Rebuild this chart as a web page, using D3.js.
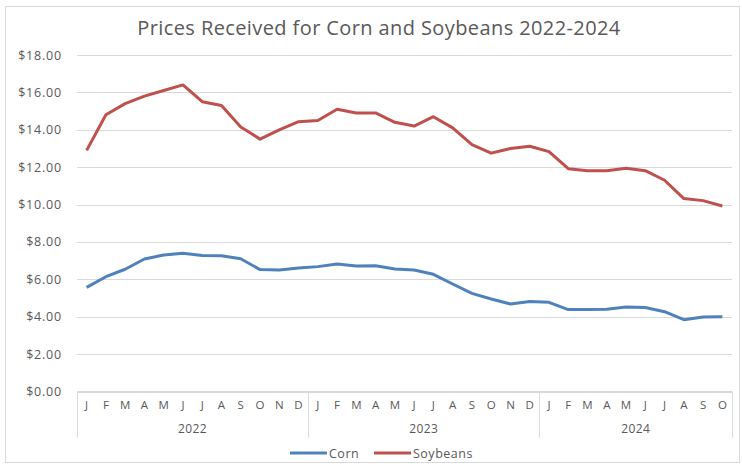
<!doctype html>
<html>
<head>
<meta charset="utf-8">
<style>
  body { margin: 0; background: #fff; font-family: "Open Sans", Calibri, sans-serif; }
  .grid line { stroke: #d9d9d9; stroke-width: 1; shape-rendering: crispEdges; }
  .grid path { display: none; }
  .tick text { fill: #595959; }
</style>
<script src="https://d3js.org/d3.v7.min.js"></script>
</head>
<body>
<script>
// data
var months = ['J','F','M','A','M','J','J','A','S','O','N','D',
              'J','F','M','A','M','J','J','A','S','O','N','D',
              'J','F','M','A','M','J','J','A','S','O'];
var years = ['2022', '2023', '2024'];
var yearCounts = [12, 12, 10];
var corn = [5.57, 6.14, 6.54, 7.09, 7.30, 7.39, 7.28, 7.26, 7.10, 6.52, 6.50, 6.60,
            6.68, 6.82, 6.71, 6.73, 6.55, 6.50, 6.27, 5.75, 5.25, 4.95, 4.68, 4.82,
            4.77, 4.38, 4.38, 4.40, 4.52, 4.49, 4.27, 3.84, 3.99, 4.00];
var soybeans = [12.90, 14.80, 15.40, 15.80, 16.10, 16.40, 15.50, 15.30, 14.15, 13.50, 14.00, 14.43,
                14.50, 15.10, 14.90, 14.90, 14.40, 14.20, 14.70, 14.10, 13.20, 12.75, 13.00, 13.12,
                12.83, 11.92, 11.81, 11.81, 11.94, 11.81, 11.30, 10.32, 10.21, 9.92];
var yTicks = [0, 2, 4, 6, 8, 10, 12, 14, 16, 18];
var series = [
  {name: 'Corn', values: corn, color: '#4f81bd'},
  {name: 'Soybeans', values: soybeans, color: '#c0504d'}
];

var W = 742, H = 464;
var margin = {top: 55, right: 10, bottom: 73, left: 77};
var width = 732 - margin.left;
var height = 391.5 - margin.top;

var svg = d3.select('body').append('svg')
  .attr('width', W)
  .attr('height', H);

// chart border
svg.append('rect')
  .attr('x', 5.5).attr('y', 6.5)
  .attr('width', 734).attr('height', 456)
  .attr('fill', 'none')
  .attr('stroke', '#d9d9d9');

// title
svg.append('text')
  .text('Prices Received for Corn and Soybeans 2022-2024')
  .attr('x', 379).attr('y', 35)
  .attr('text-anchor', 'middle')
  .style('font-size', '20px')
  .style('letter-spacing', '0.4px')
  .style('fill', '#595959');

var g = svg.append('g')
  .attr('transform', `translate(${margin.left}, ${margin.top})`);

var idx = d3.range(months.length);
var xScale = d3.scaleBand().domain(idx).range([0, width]);
var yScale = d3.scaleLinear().domain([0, 18]).range([height, 0]);

// gridlines
g.append('g')
  .attr('class', 'grid')
  .call(d3.axisLeft(yScale).tickValues(yTicks).tickSize(-width).tickFormat(''));

// y labels
var yAxis = g.append('g')
  .call(d3.axisLeft(yScale).tickValues(yTicks).tickSize(0).tickPadding(15)
    .tickFormat(d => '$' + d3.format('.2f')(d)));
yAxis.select('.domain').remove();
yAxis.selectAll('text')
  .style('font-size', '12.5px')
  .style('letter-spacing', '0.8px')
  .style('font-family', '"Open Sans", sans-serif');

// x axis box
var axisDepth = 46;
g.append('line')
  .attr('x1', 0).attr('x2', width)
  .attr('y1', height).attr('y2', height)
  .attr('stroke', '#d9d9d9');

var bounds = [0];
yearCounts.forEach(function(c, i) { bounds.push(bounds[i] + c); });
g.selectAll('.sep')
  .data(bounds)
  .enter().append('line')
  .attr('class', 'sep')
  .attr('x1', d => Math.round(d * xScale.step()) + 0.5)
  .attr('x2', d => Math.round(d * xScale.step()) + 0.5)
  .attr('y1', height)
  .attr('y2', height + axisDepth)
  .attr('stroke', '#d9d9d9');

var xAxis = g.append('g')
  .attr('transform', `translate(0, ${height})`)
  .call(d3.axisBottom(xScale).tickSize(0).tickPadding(9).tickFormat(i => months[i]));
xAxis.select('.domain').remove();
xAxis.selectAll('text').style('font-size', '11.5px').style('font-family', '"Open Sans", sans-serif');

// year labels
g.selectAll('.year')
  .data(years)
  .enter().append('text')
  .attr('class', 'year')
  .text(d => d)
  .attr('x', (d, i) => (bounds[i] + bounds[i + 1]) / 2 * xScale.step())
  .attr('y', height + 41)
  .attr('text-anchor', 'middle')
  .style('font-size', '12px')
  .style('letter-spacing', '0.4px')
  .style('fill', '#595959');

// lines
var line = d3.line()
  .x((d, i) => xScale(i) + xScale.bandwidth() / 2)
  .y(d => yScale(d));

g.selectAll('.series')
  .data(series)
  .enter().append('path')
  .attr('class', 'series')
  .attr('d', d => line(d.values))
  .attr('fill', 'none')
  .attr('stroke', d => d.color)
  .attr('stroke-width', 3)
  .attr('stroke-linejoin', 'round');

// legend
var legend = svg.selectAll('.legend')
  .data(series)
  .enter().append('g')
  .attr('class', 'legend')
  .attr('transform', (d, i) => `translate(${290 + i * 84}, 453)`);

legend.append('line')
  .attr('x1', 0).attr('x2', 37)
  .attr('stroke', d => d.color)
  .attr('stroke-width', 3);

legend.append('text')
  .text(d => d.name)
  .attr('x', 39).attr('y', 4.5)
  .style('font-size', '12.5px')
  .style('letter-spacing', '0.5px')
  .style('fill', '#595959');
</script>
</body>
</html>
